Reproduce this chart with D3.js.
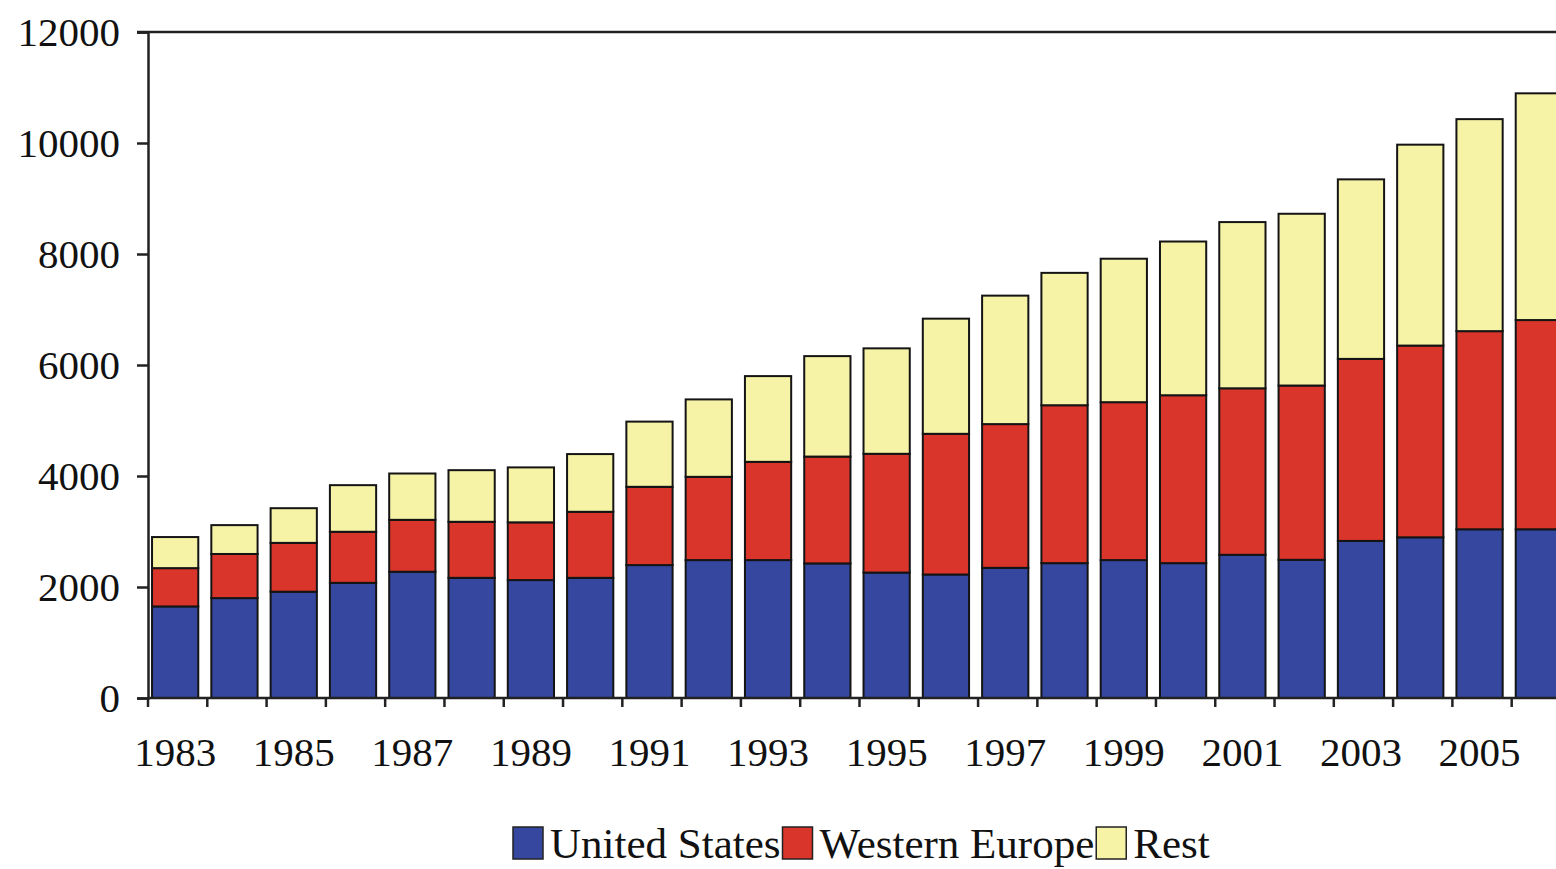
<!DOCTYPE html>
<html><head><meta charset="utf-8">
<script src="https://cdn.jsdelivr.net/npm/d3@7"></script>
<style>html,body{margin:0;padding:0;background:#fff;overflow:hidden}</style>
</head><body><svg id="c" width="1556" height="869"></svg>
<script>
const years = d3.range(1983, 2007);
const unitedStates  = [1650,1800,1915,2075,2275,2165,2125,2165,2395,2485,2485,2425,2260,2225,2345,2430,2485,2430,2580,2490,2830,2895,3040,3040];
const westernEurope = [690,795,880,920,935,1010,1040,1190,1410,1500,1770,1925,2140,2535,2590,2845,2845,3025,3000,3140,3280,3455,3570,3770];
const rest          = [560,520,625,840,835,930,990,1040,1175,1395,1545,1810,1900,2075,2315,2385,2585,2770,2995,3095,3235,3620,3820,4085];
const seriesNames = ["United States","Western Europe","Rest"];
const yTicks = [0,2000,4000,6000,8000,10000,12000];
const xLabels = years.filter(v => v % 2 === 1);
const colors = ["#35479e","#d9352a","#f6f2a6"];

(function(){
const svg = d3.select("#c");
const font = "'Liberation Serif','Times New Roman',serif";
const mLeft = 148, mBottom = 698, mTop = 32, mRight = 1566;

const x = d3.scaleBand().domain(years).range([mLeft, mRight]).paddingInner(0.22).paddingOuter(0.068).align(0.5);
const y = d3.scaleLinear().domain([0, 12000]).range([mBottom, mTop]);

const rows = years.map((yr, i) => ({year: yr, "United States": unitedStates[i], "Western Europe": westernEurope[i], "Rest": rest[i]}));
const stacked = d3.stack().keys(seriesNames)(rows);

const g = svg.append("g");
stacked.forEach((s, si) => {
  g.selectAll(null).data(s).join("rect")
    .attr("x", d => x(d.data.year))
    .attr("width", x.bandwidth())
    .attr("y", d => y(d[1]))
    .attr("height", d => y(d[0]) - y(d[1]))
    .attr("fill", colors[si])
    .attr("stroke", "#141414")
    .attr("stroke-width", 2);
});

const yAxis = d3.axisLeft(y).tickValues(yTicks).tickSize(11).tickPadding(17).tickFormat(d3.format("d"));
const ya = svg.append("g").attr("transform", `translate(${mLeft},0)`).call(yAxis);
ya.select(".domain").attr("stroke", "#222").attr("stroke-width", 2.5);
ya.selectAll(".tick line").attr("stroke", "#222").attr("stroke-width", 2.5);
ya.selectAll(".tick text").attr("font-family", font).attr("font-size", 41).attr("fill", "#111").attr("dy", "0.34em");

svg.append("line").attr("x1", mLeft - 11).attr("x2", 1556).attr("y1", y(12000)).attr("y2", y(12000))
  .attr("stroke", "#222").attr("stroke-width", 2.5);

const step = x.step();
const boundaries = years.map(yr => x(yr) - step * x.paddingOuter());
svg.append("line").attr("x1", mLeft).attr("x2", 1556).attr("y1", mBottom).attr("y2", mBottom)
  .attr("stroke", "#222").attr("stroke-width", 2.5);
svg.selectAll(null).data(boundaries).join("line")
  .attr("x1", d => d).attr("x2", d => d).attr("y1", mBottom).attr("y2", mBottom + 9)
  .attr("stroke", "#222").attr("stroke-width", 2.5);
svg.selectAll(null).data(xLabels).join("text")
  .attr("x", d => x(d) + x.bandwidth() / 2)
  .attr("y", 766)
  .attr("text-anchor", "middle")
  .attr("font-family", font).attr("font-size", 41).attr("fill", "#111")
  .text(d => d);

const leg = svg.append("g");
let lx = 513;
seriesNames.forEach((name, i) => {
  leg.append("rect").attr("x", lx).attr("y", 827).attr("width", 30).attr("height", 32)
    .attr("fill", colors[i]).attr("stroke", "#222").attr("stroke-width", 1.5);
  const t = leg.append("text").attr("x", lx + 37).attr("y", 858)
    .attr("font-family", font).attr("font-size", 43).attr("fill", "#111").text(name);
  lx = lx + 37 + t.node().getComputedTextLength() + 2;
});
})();
</script>
</body></html>
